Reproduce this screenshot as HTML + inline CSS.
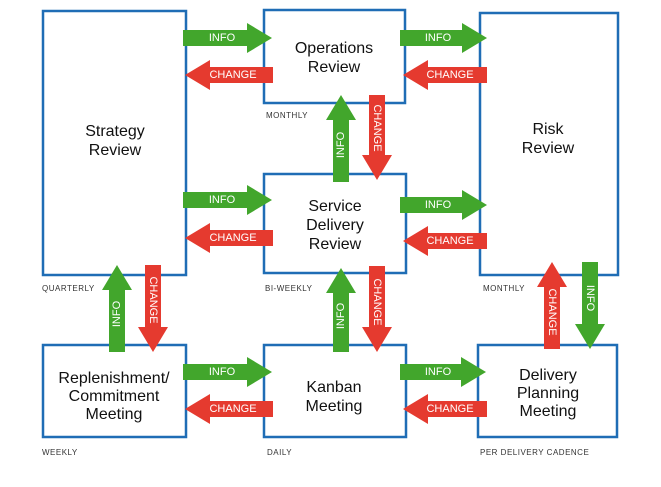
<!DOCTYPE html>
<html><head><style>
html,body{margin:0;padding:0;background:#fff;}
svg{display:block;font-family:"Liberation Sans",sans-serif;}
.t{font-size:16px;fill:#111;text-anchor:middle;}
.s{font-size:8px;fill:#333;letter-spacing:0.5px;}
.a{font-size:11px;fill:#fff;text-anchor:middle;dominant-baseline:central;}
</style></head><body>
<svg width="661" height="487" viewBox="0 0 661 487">
<defs>
<path id="R" d="M0,-8 H-63 V-16 H-88 M0,0" />
</defs>
<g fill="none" stroke="#1f6db5" stroke-width="2.5">
<rect x="43" y="11" width="143" height="264"/>
<rect x="264" y="10" width="141" height="93"/>
<rect x="480" y="13" width="138" height="262"/>
<rect x="264" y="174" width="142" height="99"/>
<rect x="43" y="345" width="143" height="92"/>
<rect x="264" y="345" width="142" height="92"/>
<rect x="478" y="345" width="139" height="92"/>
</g>
<g class="t">
<text x="115" y="136">Strategy</text><text x="115" y="155">Review</text>
<text x="334" y="53">Operations</text><text x="334" y="72">Review</text>
<text x="548" y="134">Risk</text><text x="548" y="153">Review</text>
<text x="335" y="211">Service</text><text x="335" y="230">Delivery</text><text x="335" y="249">Review</text>
<text x="114" y="383">Replenishment/</text><text x="114" y="401">Commitment</text><text x="114" y="419">Meeting</text>
<text x="334" y="392">Kanban</text><text x="334" y="411">Meeting</text>
<text x="548" y="380">Delivery</text><text x="548" y="398">Planning</text><text x="548" y="416">Meeting</text>
</g>
<g class="s">
<text x="266" y="118">MONTHLY</text>
<text x="42" y="291">QUARTERLY</text>
<text x="265" y="291">BI-WEEKLY</text>
<text x="483" y="291">MONTHLY</text>
<text x="42" y="455">WEEKLY</text>
<text x="267" y="455">DAILY</text>
<text x="480" y="455">PER DELIVERY CADENCE</text>
</g>
<!-- horizontal arrows: right (green) and left (red) -->
<g>
<!-- right arrow: x1..x2 at cy -->
<polygon fill="#42a62c" points="183,30 247,30 247,23 272,38 247,53 247,46 183,46"/>
<polygon fill="#e53a2f" points="273,67 210,67 210,60 185,75 210,90 210,83 273,83"/>
<polygon fill="#42a62c" points="183,192 247,192 247,185 272,200 247,215 247,208 183,208"/>
<polygon fill="#e53a2f" points="273,230 210,230 210,223 185,238 210,253 210,246 273,246"/>
<polygon fill="#42a62c" points="183,364 247,364 247,357 272,372 247,387 247,380 183,380"/>
<polygon fill="#e53a2f" points="273,401 210,401 210,394 185,409 210,424 210,417 273,417"/>
<polygon fill="#42a62c" points="400,30 462,30 462,23 487,38 462,53 462,46 400,46"/>
<polygon fill="#e53a2f" points="487,67 428,67 428,60 403,75 428,90 428,83 487,83"/>
<polygon fill="#42a62c" points="400,197 462,197 462,190 487,205 462,220 462,213 400,213"/>
<polygon fill="#e53a2f" points="487,233 428,233 428,226 403,241 428,256 428,249 487,249"/>
<polygon fill="#42a62c" points="400,364 461,364 461,357 486,372 461,387 461,380 400,380"/>
<polygon fill="#e53a2f" points="487,401 428,401 428,394 403,409 428,424 428,417 487,417"/>
</g>
<g class="a">
<text x="222" y="38">INFO</text><text x="233" y="75">CHANGE</text>
<text x="222" y="200">INFO</text><text x="233" y="238">CHANGE</text>
<text x="222" y="372">INFO</text><text x="233" y="409">CHANGE</text>
<text x="438" y="38">INFO</text><text x="450" y="75">CHANGE</text>
<text x="438" y="205">INFO</text><text x="450" y="241">CHANGE</text>
<text x="438" y="372">INFO</text><text x="450" y="409">CHANGE</text>
</g>
<!-- vertical arrows -->
<g>
<polygon fill="#42a62c" points="333,182 333,120 326,120 341,95 356,120 349,120 349,182"/>
<polygon fill="#e53a2f" points="369,95 369,155 362,155 377,180 392,155 385,155 385,95"/>
<polygon fill="#42a62c" points="333,352 333,293 326,293 341,268 356,293 349,293 349,352"/>
<polygon fill="#e53a2f" points="369,266 369,327 362,327 377,352 392,327 385,327 385,266"/>
<polygon fill="#42a62c" points="109,352 109,290 102,290 117,265 132,290 125,290 125,352"/>
<polygon fill="#e53a2f" points="145,265 145,327 138,327 153,352 168,327 161,327 161,265"/>
<polygon fill="#e53a2f" points="544,349 544,287 537,287 552,262 567,287 560,287 560,349"/>
<polygon fill="#42a62c" points="582,262 582,324 575,324 590,349 605,324 598,324 598,262"/>
</g>
<g class="a">
<text transform="translate(341,145) rotate(-90)">INFO</text>
<text transform="translate(377,128) rotate(90)">CHANGE</text>
<text transform="translate(341,316) rotate(-90)">INFO</text>
<text transform="translate(377,302) rotate(90)">CHANGE</text>
<text transform="translate(117,314) rotate(-90)">INFO</text>
<text transform="translate(153,300) rotate(90)">CHANGE</text>
<text transform="translate(552,312) rotate(90)">CHANGE</text>
<text transform="translate(590,298) rotate(90)">INFO</text>
</g>
</svg>
</body></html>
